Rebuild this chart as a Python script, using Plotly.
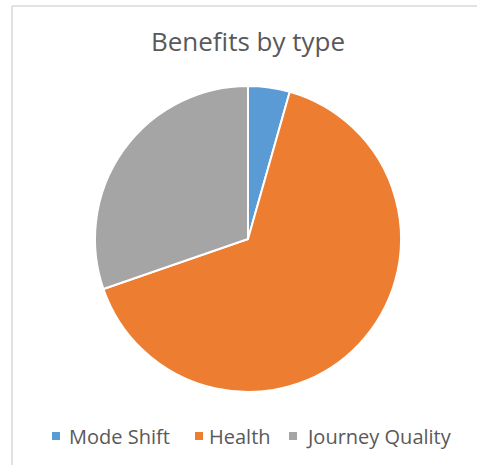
import plotly.graph_objects as go

categories = ["Mode Shift", "Health", "Journey Quality"]
values = [4.4, 65.3, 30.3]
colors = ["#5B9BD5", "#ED7D31", "#A5A5A5"]

W, H = 477, 465
cx, cy, r = 248, 239, 153

fig = go.Figure(go.Pie(
    labels=categories,
    values=values,
    sort=False,
    direction="clockwise",
    rotation=0,
    marker=dict(colors=colors, line=dict(color="white", width=2)),
    textinfo="none",
    hoverinfo="label+percent",
    showlegend=False,
    domain=dict(x=[(cx - r) / W, (cx + r) / W],
                y=[(H - cy - r) / H, (H - cy + r) / H]),
))

# legend drawn manually (Excel style: small squares, tight gap)
legend_sq_x = [52, 195, 289]
legend_txt_x = [67, 207, 304]
legend_y = 436
shapes = [
    dict(type="line", xref="paper", yref="paper",
         x0=12 / W, x1=1, y0=1 - 6 / H, y1=1 - 6 / H,
         line=dict(color="#D9D9D9", width=1.5)),
    dict(type="line", xref="paper", yref="paper",
         x0=12 / W, x1=12 / W, y0=0, y1=1 - 6 / H,
         line=dict(color="#D9D9D9", width=1.5)),
]
annotations = []
for name, col, sx, tx in zip(categories, colors, legend_sq_x, legend_txt_x):
    shapes.append(dict(type="rect", xref="paper", yref="paper",
                       x0=sx / W, x1=(sx + 8) / W,
                       y0=1 - (legend_y + 4) / H, y1=1 - (legend_y - 4) / H,
                       fillcolor=col, line=dict(width=0)))
    annotations.append(dict(text=name, xref="paper", yref="paper",
                            x=tx / W, y=1 - legend_y / H,
                            xanchor="left", yanchor="middle", showarrow=False,
                            font=dict(size=20, color="#595959")))

fig.update_layout(
    width=W, height=H,
    margin=dict(l=0, r=0, t=0, b=0),
    paper_bgcolor="white",
    font=dict(family="Open Sans", color="#595959"),
    title=dict(text="Benefits by type", x=248 / W, xanchor="center",
               y=1 - 42 / H, yanchor="middle",
               font=dict(size=26, color="#595959")),
    showlegend=False,
    shapes=shapes,
    annotations=annotations,
)

fig.write_html(
    "out.html",
    config={"displayModeBar": False},
    post_script="document.body.style.margin='0';document.body.style.overflow='hidden';",
)
